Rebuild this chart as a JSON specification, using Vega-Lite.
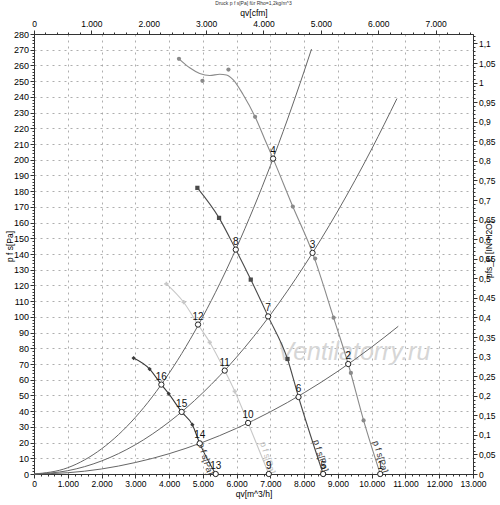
{
  "$schema": "https://vega.github.io/schema/vega-lite/v6.json",
  "width": 439,
  "height": 440,
  "autosize": "none",
  "padding": {"left": 34, "top": 34, "right": 27, "bottom": 31},
  "title": {"text": "Druck p f s[Pa] für Rho=1,2kg/m^3", "fontSize": 5, "fontWeight": "normal", "color": "#333", "offset": 3},
  "config": {
    "view": {"stroke": null},
    "font": "Liberation Sans",
    "axis": {
      "labelFontSize": 8.5, "labelColor": "#000", "titleFontSize": 8.5, "titleFontWeight": "normal", "titleColor": "#000",
      "domainColor": "#333", "tickColor": "#333", "tickSize": 4, "labelOverlap": false, "labelFlush": false, "labelPadding": 1.5
    }
  },
  "datasets": {
    "sys": [
      {"c": "A", "q": 0, "p": 0}, {"c": "A", "q": 1000, "p": 4.0}, {"c": "A", "q": 2000, "p": 16.0}, {"c": "A", "q": 3000, "p": 36.0},
      {"c": "A", "q": 4000, "p": 64.1}, {"c": "A", "q": 5000, "p": 100.1}, {"c": "A", "q": 6000, "p": 144.1}, {"c": "A", "q": 7000, "p": 196.2},
      {"c": "A", "q": 8000, "p": 256.3}, {"c": "A", "q": 8218, "p": 270.4},
      {"c": "B", "q": 0, "p": 0}, {"c": "B", "q": 1000, "p": 2.1}, {"c": "B", "q": 2000, "p": 8.3}, {"c": "B", "q": 3000, "p": 18.6},
      {"c": "B", "q": 4000, "p": 33.1}, {"c": "B", "q": 5000, "p": 51.7}, {"c": "B", "q": 6000, "p": 74.4}, {"c": "B", "q": 7000, "p": 101.3},
      {"c": "B", "q": 8000, "p": 132.4}, {"c": "B", "q": 9000, "p": 167.5}, {"c": "B", "q": 10000, "p": 206.8}, {"c": "B", "q": 10748, "p": 238.9},
      {"c": "C", "q": 0, "p": 0}, {"c": "C", "q": 1000, "p": 0.8}, {"c": "C", "q": 2000, "p": 3.2}, {"c": "C", "q": 3000, "p": 7.3},
      {"c": "C", "q": 4000, "p": 12.9}, {"c": "C", "q": 5000, "p": 20.2}, {"c": "C", "q": 6000, "p": 29.1}, {"c": "C", "q": 7000, "p": 39.6},
      {"c": "C", "q": 8000, "p": 51.7}, {"c": "C", "q": 9000, "p": 65.4}, {"c": "C", "q": 10000, "p": 80.8}, {"c": "C", "q": 10787, "p": 94.0}
    ],
    "fan": [
      {"c": "1", "q": 4293, "p": 264.2}, {"c": "1", "q": 4611, "p": 258.5}, {"c": "1", "q": 4907, "p": 254.9}, {"c": "1", "q": 5204, "p": 253.6},
      {"c": "1", "q": 5500, "p": 254.4}, {"c": "1", "q": 5699, "p": 253.9}, {"c": "1", "q": 5894, "p": 251.0}, {"c": "1", "q": 6191, "p": 241.5},
      {"c": "1", "q": 6547, "p": 227.3}, {"c": "1", "q": 6835, "p": 212.9}, {"c": "1", "q": 7080, "p": 200.7}, {"c": "1", "q": 7664, "p": 170.2},
      {"c": "1", "q": 8248, "p": 140.7}, {"c": "1", "q": 8871, "p": 99.5}, {"c": "1", "q": 9305, "p": 70}, {"c": "1", "q": 9760, "p": 34.1},
      {"c": "1", "q": 10253, "p": 0},
      {"c": "2", "q": 4838, "p": 182.1}, {"c": "2", "q": 5480, "p": 163}, {"c": "2", "q": 5975, "p": 142.8}, {"c": "2", "q": 6419, "p": 123.7},
      {"c": "2", "q": 6933, "p": 100.3}, {"c": "2", "q": 7507, "p": 73.2}, {"c": "2", "q": 7833, "p": 49}, {"c": "2", "q": 8563, "p": 0},
      {"c": "3", "q": 3920, "p": 121}, {"c": "3", "q": 4432, "p": 109.3}, {"c": "3", "q": 4857, "p": 95.1}, {"c": "3", "q": 5204, "p": 83.8},
      {"c": "3", "q": 5648, "p": 65.8}, {"c": "3", "q": 5945, "p": 52.6}, {"c": "3", "q": 6340, "p": 32.5}, {"c": "3", "q": 6953, "p": 0},
      {"c": "4", "q": 2950, "p": 73.8}, {"c": "4", "q": 3424, "p": 66.8}, {"c": "4", "q": 3771, "p": 56.9}, {"c": "4", "q": 3988, "p": 51.1},
      {"c": "4", "q": 4373, "p": 39.5}, {"c": "4", "q": 4690, "p": 31.4}, {"c": "4", "q": 4907, "p": 19.5}, {"c": "4", "q": 5381, "p": 0}
    ],
    "mk": [
      {"c": "1", "q": 4293, "p": 264.2}, {"c": "1", "q": 4987, "p": 250.2}, {"c": "1", "q": 5758, "p": 257.4}, {"c": "1", "q": 6547, "p": 227.3},
      {"c": "1", "q": 7664, "p": 170.2}, {"c": "1", "q": 8326, "p": 137.1}, {"c": "1", "q": 8871, "p": 99.5}, {"c": "1", "q": 9384, "p": 64.3},
      {"c": "1", "q": 9760, "p": 34.1},
      {"c": "2", "q": 4838, "p": 182.1}, {"c": "2", "q": 5480, "p": 163}, {"c": "2", "q": 6419, "p": 123.7}, {"c": "2", "q": 7507, "p": 73.2},
      {"c": "3", "q": 3920, "p": 121}, {"c": "3", "q": 4432, "p": 109.3}, {"c": "3", "q": 5204, "p": 83.8}, {"c": "3", "q": 5945, "p": 52.6},
      {"c": "4", "q": 2950, "p": 73.8}, {"c": "4", "q": 3424, "p": 66.8}, {"c": "4", "q": 3988, "p": 51.1}, {"c": "4", "q": 4690, "p": 31.4}
    ],
    "pts": [
      {"n": "1", "q": 10253, "p": 0}, {"n": "2", "q": 9305, "p": 70}, {"n": "3", "q": 8248, "p": 140.7}, {"n": "4", "q": 7080, "p": 200.7},
      {"n": "5", "q": 8563, "p": 0}, {"n": "6", "q": 7833, "p": 49}, {"n": "7", "q": 6933, "p": 100.3}, {"n": "8", "q": 5975, "p": 142.8},
      {"n": "9", "q": 6953, "p": 0}, {"n": "10", "q": 6340, "p": 32.5}, {"n": "11", "q": 5648, "p": 65.8}, {"n": "12", "q": 4857, "p": 95.1},
      {"n": "13", "q": 5381, "p": 0}, {"n": "14", "q": 4907, "p": 19.5}, {"n": "15", "q": 4373, "p": 39.5}, {"n": "16", "q": 3771, "p": 56.9}
    ],
    "lbl": [
      {"c": "1", "q": 10259, "p": 11.0, "t": "p f s[Pa]"}, {"c": "2", "q": 8495, "p": 11.7, "t": "p f s[Pa]"},
      {"c": "3", "q": 6923, "p": 10.4, "t": "p f s[Pa]"}, {"c": "4", "q": 5085, "p": 9.7, "t": "p f s[Pa]"}
    ],
    "wm": [{"q": 9473, "p": 77.9, "t": "Ventilatorry.ru"}]
  },
  "layer": [
    {
      "encoding": {
        "x": {"field": "q", "type": "quantitative", "scale": {"domain": [0, 13000], "nice": false, "zero": true},
          "axis": {"orient": "bottom", "tickCount": 13, "grid": true, "gridColor": "#999", "gridDash": [2, 4], "gridWidth": 0.8,
            "labelExpr": "replace(format(datum.value, ','), ',', '.')", "title": "qv[m^3/h]", "titlePadding": 1}},
        "y": {"field": "p", "type": "quantitative", "scale": {"domain": [0, 280], "nice": false, "zero": true},
          "axis": {"orient": "left", "tickCount": 28, "grid": true, "gridColor": "#999", "gridDash": [2, 4], "gridWidth": 0.8,
            "title": "p f s[Pa]", "titleAngle": 270, "titleX": -25, "titleY": 212, "titleAlign": "center", "titleBaseline": "middle", "labelFontSize": 9}}
      },
      "layer": [
        {"data": {"name": "wm"}, "mark": {"type": "text", "fontSize": 25, "fontStyle": "italic", "fill": "#d6d6d6", "align": "center", "baseline": "middle"},
          "encoding": {"text": {"field": "t"}}},
        {"data": {"name": "sys"}, "mark": {"type": "line", "color": "#666", "strokeWidth": 1, "interpolate": "monotone"},
          "encoding": {"detail": {"field": "c"}}},
        {"data": {"name": "fan"}, "mark": {"type": "line", "strokeWidth": 1.1, "interpolate": "monotone"},
          "encoding": {"color": {"field": "c", "type": "nominal", "scale": {"domain": ["1", "2", "3", "4"], "range": ["#8a8a8a", "#4a4a4a", "#c8c8c8", "#3a3a3a"]}, "legend": null}}},
        {"data": {"name": "mk"}, "mark": {"type": "point", "filled": true, "size": 18, "opacity": 1},
          "encoding": {"color": {"field": "c", "type": "nominal", "legend": null},
            "shape": {"field": "c", "type": "nominal", "scale": {"domain": ["1", "2", "3", "4"], "range": ["circle", "square", "cross", "diamond"]}, "legend": null}}},
        {"data": {"name": "lbl"}, "mark": {"type": "text", "fontSize": 9, "angle": 73, "align": "center", "baseline": "middle"},
          "encoding": {"text": {"field": "t"},
            "fill": {"field": "c", "type": "nominal", "scale": {"domain": ["1", "2", "3", "4"], "range": ["#333", "#333", "#bbb", "#333"]}, "legend": null}}},
        {"data": {"name": "pts"}, "mark": {"type": "point", "shape": "circle", "fill": "white", "fillOpacity": 1, "stroke": "#222", "strokeWidth": 1, "size": 28, "opacity": 1}},
        {"data": {"name": "pts"}, "mark": {"type": "text", "fontSize": 10, "dy": -8, "fill": "#111", "align": "center", "baseline": "middle"},
          "encoding": {"text": {"field": "n"}}}
      ]
    },
    {
      "data": {"values": [{"v": 0}, {"v": 13000}]},
      "mark": {"type": "point", "opacity": 0},
      "encoding": {"x": {"field": "v", "type": "quantitative", "scale": {"domain": [0, 13000], "nice": false},
        "axis": {"orient": "bottom", "tickCount": 65, "labels": false, "domain": false, "grid": false, "tickSize": 2, "title": null}}}
    },
    {
      "data": {"values": [{"v": 0}, {"v": 280}]},
      "mark": {"type": "point", "opacity": 0},
      "encoding": {"y": {"field": "v", "type": "quantitative", "scale": {"domain": [0, 280], "nice": false},
        "axis": {"orient": "left", "tickCount": 140, "labels": false, "domain": false, "grid": false, "tickSize": 2, "title": null}}}
    },
    {
      "data": {"values": [{"v": 0}, {"v": 7651.6}]},
      "mark": {"type": "point", "opacity": 0},
      "encoding": {"x": {"field": "v", "type": "quantitative", "scale": {"domain": [0, 7651.6], "nice": false},
        "axis": {"orient": "top", "tickCount": 8, "grid": false, "title": "qv[cfm]", "titlePadding": 2,
          "labelExpr": "replace(format(datum.value, ','), ',', '.')"}}}
    },
    {
      "data": {"values": [{"v": 0}, {"v": 7651.6}]},
      "mark": {"type": "point", "opacity": 0},
      "encoding": {"x": {"field": "v", "type": "quantitative", "scale": {"domain": [0, 7651.6], "nice": false},
        "axis": {"orient": "top", "tickCount": 38, "labels": false, "domain": false, "grid": false, "tickSize": 2, "title": null}}}
    },
    {
      "data": {"values": [{"v": 0}, {"v": 1.1241}]},
      "mark": {"type": "point", "opacity": 0},
      "encoding": {"y": {"field": "v", "type": "quantitative", "scale": {"domain": [0, 1.1241], "nice": false},
        "axis": {"orient": "right", "tickCount": 22, "grid": false, "title": "pfs_E [IN H2O]", "titleAngle": 270, "titleX": 15, "titleY": 215,
          "titleAlign": "center", "titleBaseline": "middle",
          "labelExpr": "replace(format(datum.value, '.2~f'), '.', ',')"}}}
    },
    {
      "data": {"values": [{"v": 0}, {"v": 1.1241}]},
      "mark": {"type": "point", "opacity": 0},
      "encoding": {"y": {"field": "v", "type": "quantitative", "scale": {"domain": [0, 1.1241], "nice": false},
        "axis": {"orient": "right", "tickCount": 112, "labels": false, "domain": false, "grid": false, "tickSize": 2, "title": null}}}
    }
  ],
  "resolve": {"scale": {"x": "independent", "y": "independent"}, "axis": {"x": "independent", "y": "independent"}}
}
